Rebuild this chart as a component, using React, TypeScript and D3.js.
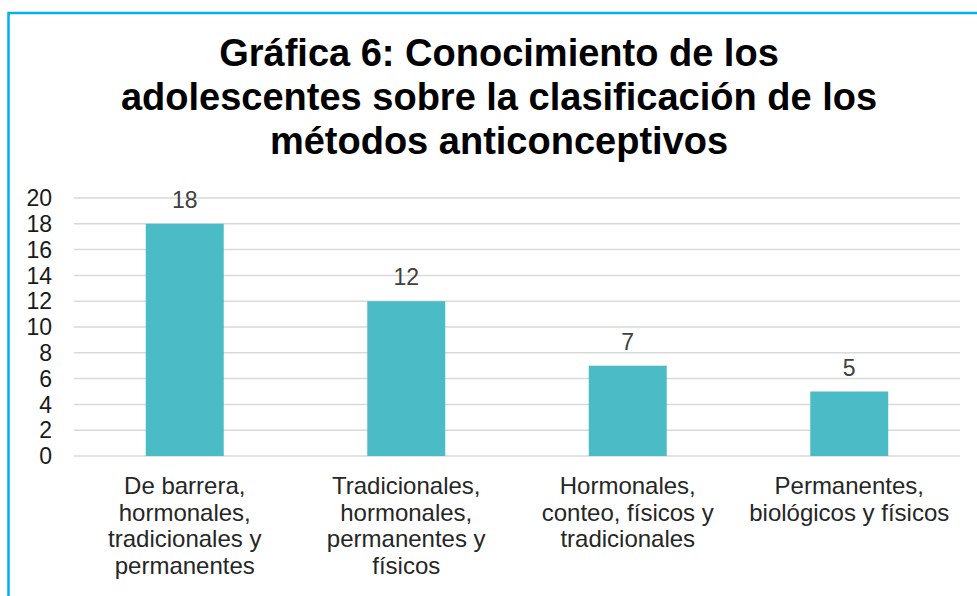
import React from 'react';
import * as d3 from 'd3';

// chart data
const categories = [
  'De barrera, hormonales, tradicionales y permanentes',
  'Tradicionales, hormonales, permanentes y físicos',
  'Hormonales, conteo, físicos y tradicionales',
  'Permanentes, biológicos y físicos',
];
const categoryLines = [
  ['De barrera,', 'hormonales,', 'tradicionales y', 'permanentes'],
  ['Tradicionales,', 'hormonales,', 'permanentes y', 'físicos'],
  ['Hormonales,', 'conteo, físicos y', 'tradicionales'],
  ['Permanentes,', 'biológicos y físicos'],
];
const values = [18, 12, 7, 5];
const yTicks = [0, 2, 4, 6, 8, 10, 12, 14, 16, 18, 20];
const titleLines = [
  'Gráfica 6: Conocimiento de los',
  'adolescentes sobre la clasificación de los',
  'métodos anticonceptivos',
];

const width = 977;
const height = 596;
const font = '"Liberation Sans", Arial, sans-serif';

export default function App() {
  // plot area
  const left = 74;
  const right = 960;
  const top = 198;
  const bottom = 456;

  const x = d3.scaleBand<string>()
    .domain(categories)
    .range([left, right])
    .paddingInner(0.648)
    .paddingOuter(0.324);

  const y = d3.scaleLinear()
    .domain([0, 20])
    .range([bottom, top]);

  const cx = (i: number) => (x(categories[i]) ?? 0) + x.bandwidth() / 2;

  return (
    <svg
      width={width}
      height={height}
      style={{ position: 'absolute', left: 0, top: 0, display: 'block', background: '#fff' }}
      fontFamily={font}
    >
      {/* blue frame of the chart object */}
      <rect x={8.5} y={13} width={1000} height={700} fill="none" stroke="#00B0F0" strokeWidth={2.5} />

      {/* title */}
      <g fontSize={38} fontWeight="bold" fill="#000" textAnchor="middle">
        {titleLines.map((t, i) => (
          <text key={i} x={499} y={66 + i * 44}>{t}</text>
        ))}
      </g>

      {/* gridlines */}
      <g stroke="#D9D9D9" strokeWidth={1.5}>
        {yTicks.map(t => (
          <line key={t} x1={left} x2={right} y1={y(t)} y2={y(t)} />
        ))}
      </g>

      {/* y tick labels */}
      <g fontSize={23} fill="#1a1a1a" textAnchor="end">
        {yTicks.map(t => (
          <text key={t} x={52} y={y(t)} dy="0.36em">{t}</text>
        ))}
      </g>

      {/* bars */}
      <g fill="#4BBCC6">
        {values.map((v, i) => (
          <rect
            key={i}
            x={x(categories[i])}
            y={y(v)}
            width={x.bandwidth()}
            height={y(0) - y(v)}
          />
        ))}
      </g>

      {/* value labels */}
      <g fontSize={23} fill="#404040" textAnchor="middle">
        {values.map((v, i) => (
          <text key={i} x={cx(i)} y={y(v) - 16}>{v}</text>
        ))}
      </g>

      {/* category labels */}
      <g fontSize={24} fill="#262626" textAnchor="middle">
        {categoryLines.map((lines, i) => (
          <text key={i} x={cx(i)} y={494}>
            {lines.map((l, j) => (
              <tspan key={j} x={cx(i)} dy={j === 0 ? 0 : 26.5}>{l}</tspan>
            ))}
          </text>
        ))}
      </g>
    </svg>
  );
}
